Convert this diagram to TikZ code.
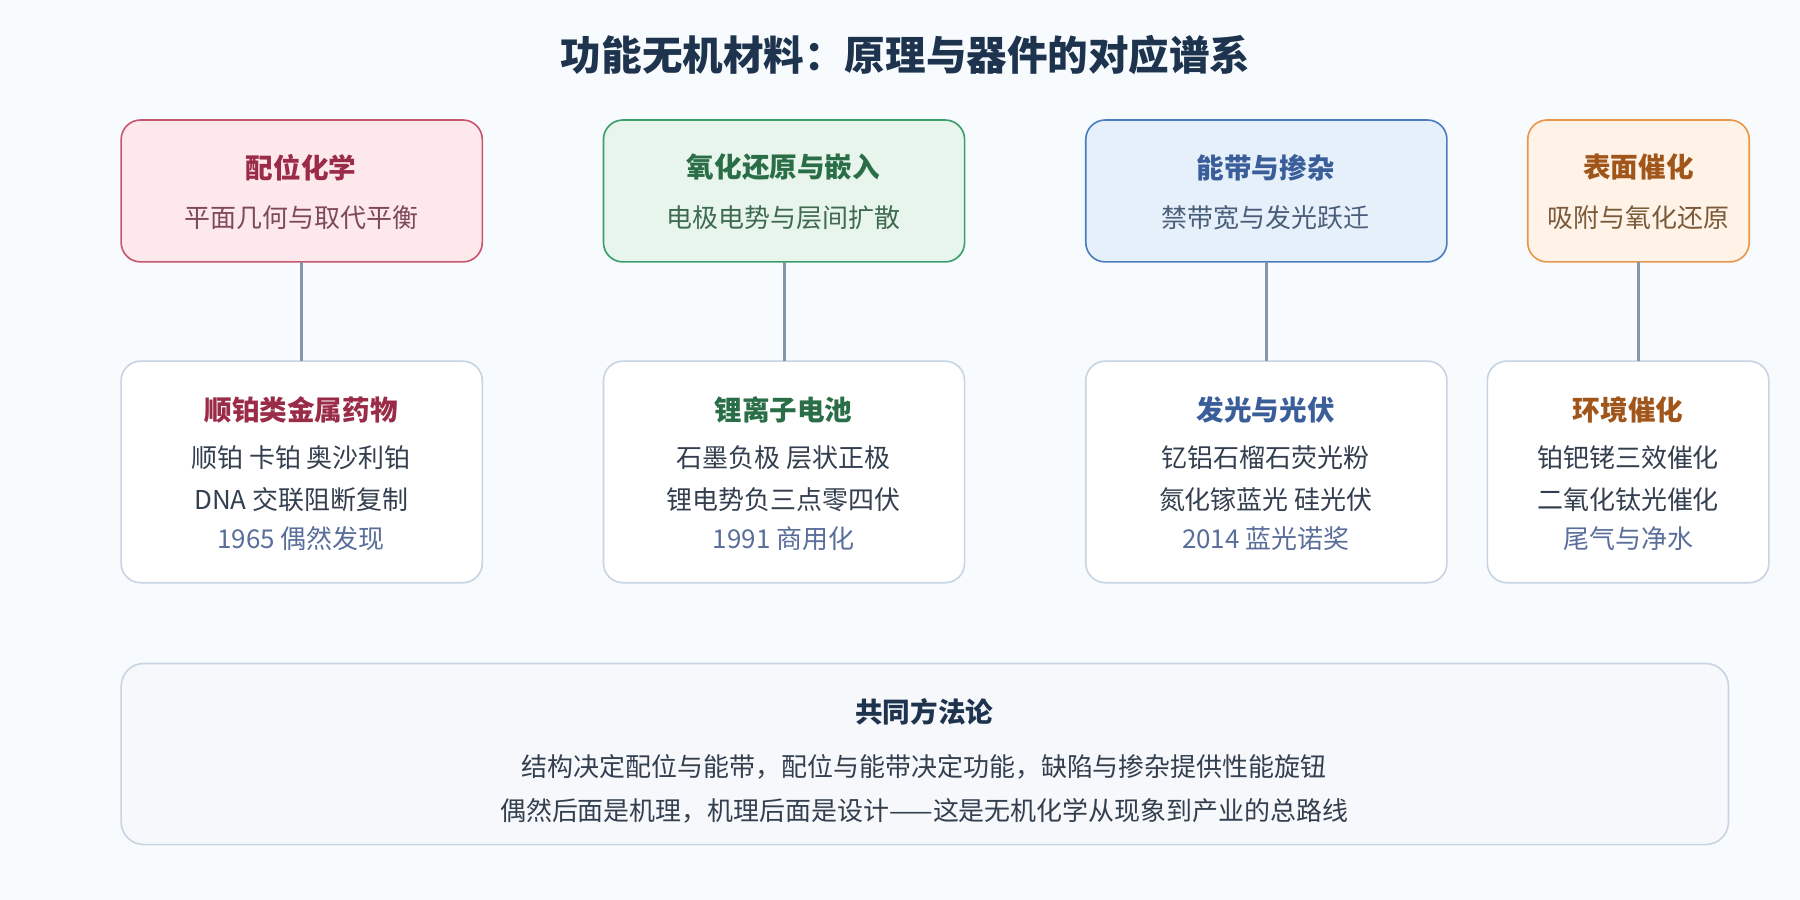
\documentclass[tikz,border=0pt]{standalone}
\usepackage{fontspec}
\setmainfont{Noto Sans CJK SC}
\begin{document}
\begin{tikzpicture}[x=0.025cm,y=-0.025cm,
 box/.style={draw,rounded corners=12pt,line width=1pt,anchor=north west,outer sep=0pt},
 conn/.style={draw=lnc,line width=1.8pt},
 ttl/.style={font=\fontsize{17}{20}\selectfont\bfseries},
 txt/.style={font=\fontsize{16}{19}\selectfont,text=dark},
 yr/.style={font=\fontsize{16}{19}\selectfont,text=yrc}]
\definecolor{bg}{HTML}{F8FBFE}
\definecolor{lnc}{HTML}{8496A8}
\definecolor{dark}{HTML}{333F4F}
\definecolor{yrc}{HTML}{5A6E9A}
\definecolor{gb}{HTML}{C8D4E2}
\definecolor{ttc}{HTML}{1E344E}
\definecolor{pfill}{HTML}{F6F8FB}
\definecolor{fa}{HTML}{FDE8EC}\definecolor{sa}{HTML}{C8566E}\definecolor{ta}{HTML}{9B2C48}\definecolor{ua}{HTML}{7E4A58}
\definecolor{fb}{HTML}{E8F5EC}\definecolor{sb}{HTML}{3A9E6A}\definecolor{tb}{HTML}{2A6E48}\definecolor{ub}{HTML}{3E6A50}
\definecolor{fc}{HTML}{E6F0FA}\definecolor{sc}{HTML}{4C7CC0}\definecolor{tc}{HTML}{3A5E9A}\definecolor{uc}{HTML}{4A5E7A}
\definecolor{fd}{HTML}{FEF3E6}\definecolor{sd}{HTML}{E8964A}\definecolor{td}{HTML}{A0561A}\definecolor{ud}{HTML}{7A5A3A}
\fill[bg] (0,0) rectangle (1560,780);
\useasboundingbox (0,0) rectangle (1560,780);
\node[font=\fontsize{25}{30}\selectfont\bfseries,text=ttc] (title) at (785,48) {功能无机材料：原理与器件的对应谱系};
% top boxes
\node[box,draw=sa,fill=fa,minimum width=313*0.025cm,minimum height=123*0.025cm] (t1) at (105,104) {};
\node[box,draw=sb,fill=fb,minimum width=313*0.025cm,minimum height=123*0.025cm] (t2) at (523,104) {};
\node[box,draw=sc,fill=fc,minimum width=313*0.025cm,minimum height=123*0.025cm] (t3) at (941,104) {};
\node[box,draw=sd,fill=fd,minimum width=192*0.025cm,minimum height=123*0.025cm] (t4) at (1324,104) {};
% bottom boxes
\node[box,draw=gb,fill=white,minimum width=313*0.025cm,minimum height=192*0.025cm] (b1) at (105,313) {};
\node[box,draw=gb,fill=white,minimum width=313*0.025cm,minimum height=192*0.025cm] (b2) at (523,313) {};
\node[box,draw=gb,fill=white,minimum width=313*0.025cm,minimum height=192*0.025cm] (b3) at (941,313) {};
\node[box,draw=gb,fill=white,minimum width=244*0.025cm,minimum height=192*0.025cm] (b4) at (1289,313) {};
\draw[conn] (t1.south) -- (b1.north);
\draw[conn] (t2.south) -- (b2.north);
\draw[conn] (t3.south) -- (b3.north);
\draw[conn] (t4.south) -- (t4.south|-b4.north);
% top texts
\node[ttl,text=ta] (t1a) at (261,145) {配位化学};
\node[txt,text=ua] (t1b) at (261,189) {平面几何与取代平衡};
\node[ttl,text=tb] (t2a) at (679,145) {氧化还原与嵌入};
\node[txt,text=ub] (t2b) at (679,189) {电极电势与层间扩散};
\node[ttl,text=tc] (t3a) at (1097,145) {能带与掺杂};
\node[txt,text=uc] (t3b) at (1097,189) {禁带宽与发光跃迁};
\node[ttl,text=td] (t4a) at (1420,145) {表面催化};
\node[txt,text=ud] (t4b) at (1420,189) {吸附与氧化还原};
% bottom texts
\node[ttl,text=ta] (b1a) at (261,355) {顺铂类金属药物};
\node[txt] (b1b) at (261,397) {顺铂 卡铂 奥沙利铂};
\node[txt] (b1c) at (261,433) {DNA 交联阻断复制};
\node[yr] (b1d) at (261,467) {1965 偶然发现};
\node[ttl,text=tb] (b2a) at (679,355) {锂离子电池};
\node[txt] (b2b) at (679,397) {石墨负极 层状正极};
\node[txt] (b2c) at (679,433) {锂电势负三点零四伏};
\node[yr] (b2d) at (679,467) {1991 商用化};
\node[ttl,text=tc] (b3a) at (1097,355) {发光与光伏};
\node[txt] (b3b) at (1097,397) {钇铝石榴石荧光粉};
\node[txt] (b3c) at (1097,433) {氮化镓蓝光 硅光伏};
\node[yr] (b3d) at (1097,467) {2014 蓝光诺奖};
\node[ttl,text=td] (b4a) at (1411,355) {环境催化};
\node[txt] (b4b) at (1411,397) {铂钯铑三效催化};
\node[txt] (b4c) at (1411,433) {二氧化钛光催化};
\node[yr] (b4d) at (1411,467) {尾气与净水};
% bottom panel
\node[box,draw=gb,fill=pfill,minimum width=1393*0.025cm,minimum height=157*0.025cm,rounded corners=14pt] (p) at (105,575) {};
\node[ttl,text=ttc] (pa) at (801,617) {共同方法论};
\node[txt] (pb) at (801,665) {结构决定配位与能带，配位与能带决定功能，缺陷与掺杂提供性能旋钮};
\node[txt] (pc) at (801,703) {偶然后面是机理，机理后面是设计——这是无机化学从现象到产业的总路线};
\end{tikzpicture}
\end{document}
